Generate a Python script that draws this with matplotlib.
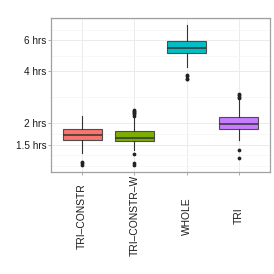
import numpy as np
import matplotlib
matplotlib.use("Agg")
import matplotlib.pyplot as plt
from matplotlib.ticker import FixedLocator, NullFormatter

plt.rcParams['font.family'] = ['Liberation Sans', 'DejaVu Sans']

# categories and box statistics (hours)
categories = ["TRI–CONSTR", "TRI–CONSTR–W", "WHOLE", "TRI"]
colors = ["#F8766D", "#7CAE00", "#00BFC4", "#C77CFF"]
whisker_low = [1.34, 1.40, 4.23, 1.60]
q1 = [1.59, 1.58, 5.10, 1.86]
median = [1.70, 1.63, 5.41, 1.97]
q3 = [1.84, 1.80, 5.96, 2.18]
whisker_high = [2.20, 2.16, 7.37, 2.71]
outliers = [
    [1.19, 1.17, 1.15],
    [2.38, 2.35, 2.32, 2.29, 2.25, 2.21, 1.33, 1.18, 1.15],
    [3.80, 3.76, 3.60, 3.57],
    [2.94, 2.89, 2.84, 2.78, 1.40, 1.26],
]

ytick_vals = [1.5, 2, 4, 6]
ytick_labels = ["1.5 hrs", "2 hrs", "4 hrs", "6 hrs"]
yminor_vals = [1.125, 1.299, 1.732, 2.828, 4.899, 6.928, 8.0]

W, H = 274, 274
fig = plt.figure(figsize=(W / 100, H / 100), dpi=100)
ax = fig.add_axes([51 / W, 1 - 172 / H, (270 - 51) / W, (172 - 18) / H])

stats = []
for i, c in enumerate(categories):
    stats.append(dict(label=c, whislo=whisker_low[i], q1=q1[i], med=median[i],
                      q3=q3[i], whishi=whisker_high[i], fliers=outliers[i]))

pos = np.arange(1, len(categories) + 1)
bp = ax.bxp(stats, positions=pos, widths=0.75, patch_artist=True, showcaps=False,
            boxprops=dict(edgecolor="#4D4D4D", linewidth=0.8),
            medianprops=dict(color="#333333", linewidth=1.1),
            whiskerprops=dict(color="#333333", linewidth=0.8),
            flierprops=dict(marker="o", markersize=1.7, markerfacecolor="#222222",
                            markeredgecolor="#222222", linestyle="none"),
            zorder=3)
for patch, col in zip(bp["boxes"], colors):
    patch.set_facecolor(col)

ax.set_yscale("log")
ax.set_ylim(1.043, 8.09)
ax.set_xlim(0.4, 4.6)

ax.yaxis.set_major_locator(FixedLocator(ytick_vals))
ax.set_yticklabels(ytick_labels)
ax.yaxis.set_minor_locator(FixedLocator(yminor_vals))
ax.yaxis.set_minor_formatter(NullFormatter())
ax.tick_params(axis="y", which="minor", length=0)

ax.set_xticks(pos)
ax.set_xticklabels(categories, rotation=90, va="center", ha="center")

ax.grid(True, which="major", color="#EBEBEB", linewidth=0.7, zorder=0)
ax.grid(True, which="minor", axis="y", color="#F4F4F4", linewidth=0.5, zorder=0)
ax.set_axisbelow(True)

for s in ax.spines.values():
    s.set_color("#A0A0A0")
    s.set_linewidth(0.9)

ax.tick_params(axis="y", which="major", length=2.5, width=0.6, color="#A0A0A0",
               labelsize=7.2, labelcolor="#1A1A1A", pad=1)
ax.tick_params(axis="x", which="major", length=2.0, width=0.6, color="#A0A0A0",
               labelsize=7.4, labelcolor="#1A1A1A", pad=29.5)

fig.savefig("out.png", dpi=100, facecolor="white")
